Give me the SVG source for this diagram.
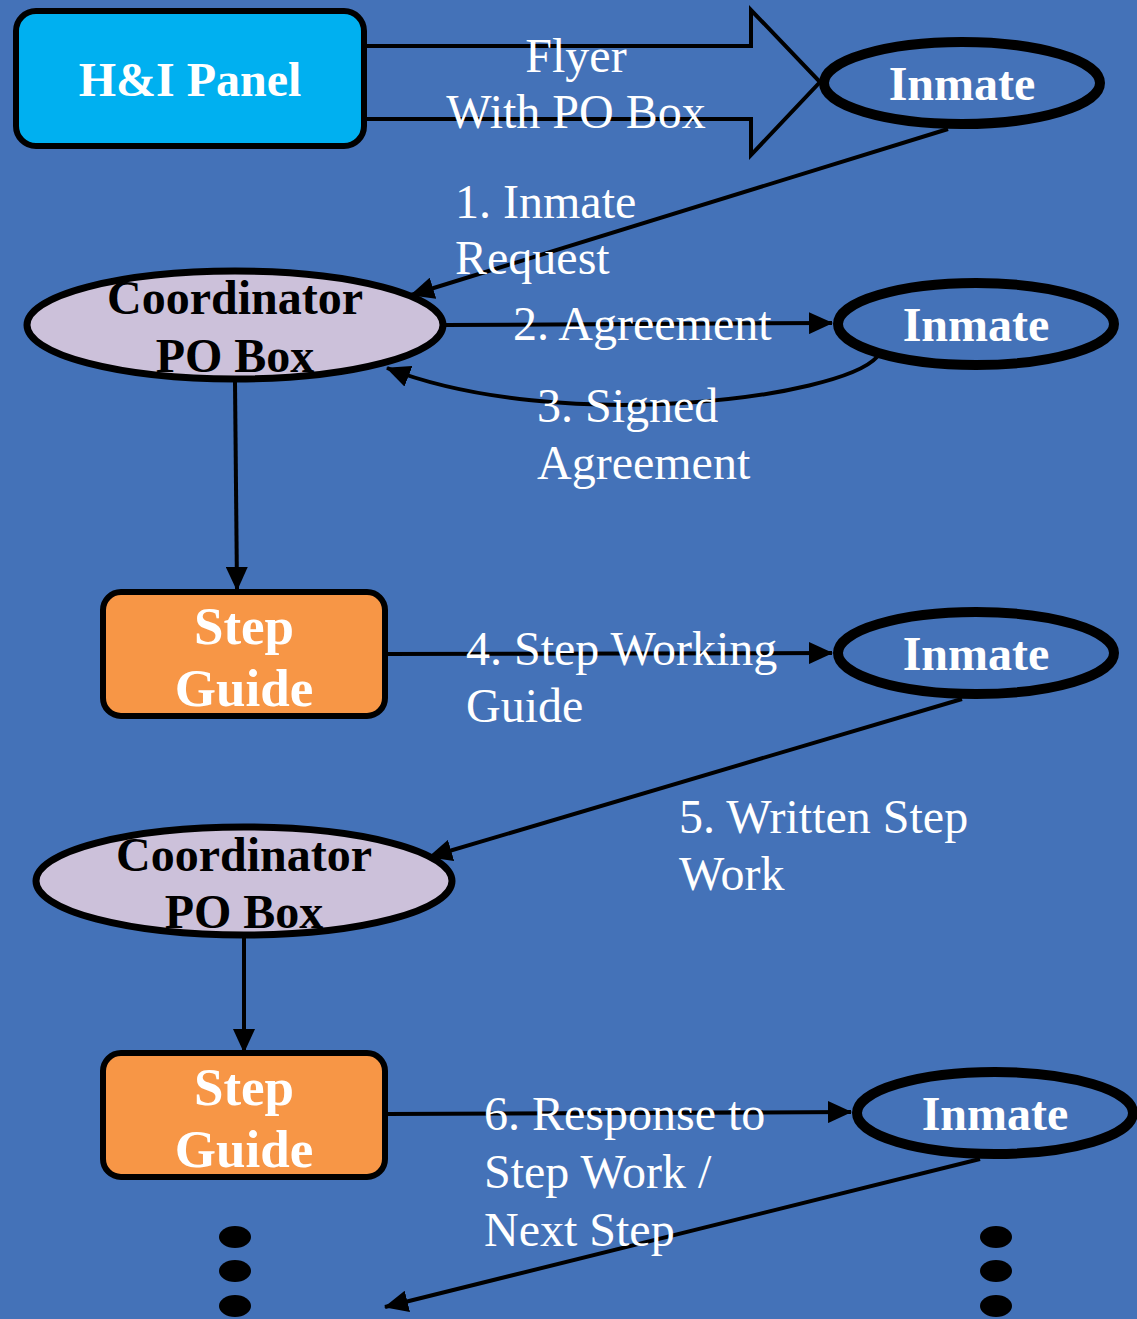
<svg xmlns="http://www.w3.org/2000/svg" width="1137" height="1319" viewBox="0 0 1137 1319">
<style>
text{font-family:"Liberation Serif","Times New Roman",serif;font-size:48px}
.b{font-weight:bold;text-anchor:middle}
.sg{font-size:53px}
.w{fill:#fff}
.k{fill:#000}
.inm{fill:none;stroke:#000;stroke-width:10}
.coord{fill:#CCC1DA;stroke:#000;stroke-width:7}
.box{stroke:#000;stroke-width:6}
.c{fill:none;stroke:#000;stroke-width:4}
</style>
<defs>
<marker id="ah" markerUnits="userSpaceOnUse" markerWidth="24" markerHeight="22" refX="23" refY="11" orient="auto">
<path d="M0,0 L24,11 L0,22 z" fill="#000"/>
</marker>
</defs>
<rect width="1137" height="1319" fill="#4472B8"/>
<g id="connectors">
<path d="M364,46 H751 V10 L820,82 L751,155 V119 H364" fill="none" stroke="#000" stroke-width="4"/>
<line class="c" x1="948" y1="129" x2="411" y2="295" marker-end="url(#ah)"/>
<line class="c" x1="446" y1="325" x2="832" y2="323" marker-end="url(#ah)"/>
<path class="c" d="M877,357 C840,398 560,435 387,368" marker-end="url(#ah)"/>
<line class="c" x1="235" y1="382" x2="237" y2="590" marker-end="url(#ah)"/>
<line class="c" x1="387" y1="654" x2="832" y2="653" marker-end="url(#ah)"/>
<line class="c" x1="962" y1="699" x2="429" y2="857" marker-end="url(#ah)"/>
<line class="c" x1="244" y1="937" x2="244" y2="1052" marker-end="url(#ah)"/>
<line class="c" x1="387" y1="1114" x2="851" y2="1112" marker-end="url(#ah)"/>
<line class="c" x1="980" y1="1159" x2="385" y2="1307" marker-end="url(#ah)"/>
</g>
<g id="labels">
<text class="w" x="576" y="72" text-anchor="middle">Flyer</text>
<text class="w" x="576" y="128" text-anchor="middle">With PO Box</text>
<text class="w" x="455" y="218">1. Inmate</text>
<text class="w" x="455" y="274">Request</text>
<text class="w" x="513" y="340">2. Agreement</text>
<text class="w" x="537" y="422">3. Signed</text>
<text class="w" x="537" y="479">Agreement</text>
<text class="w" x="466" y="665">4. Step Working</text>
<text class="w" x="466" y="722">Guide</text>
<text class="w" x="679" y="833">5. Written Step</text>
<text class="w" x="679" y="890">Work</text>
<text class="w" x="484" y="1130">6. Response to</text>
<text class="w" x="484" y="1188">Step Work /</text>
<text class="w" x="484" y="1246">Next Step</text>
</g>
<g id="hi-panel">
<rect class="box" x="16" y="11" width="348" height="135" rx="20" fill="#00B0F0"/>
<text class="b w" x="190" y="96">H&amp;I Panel</text>
</g>
<g id="inmate1">
<ellipse class="inm" cx="962" cy="83" rx="138" ry="41"/>
<text class="b w" x="962" y="100">Inmate</text>
</g>
<g id="coordinator1">
<ellipse class="coord" cx="235" cy="325" rx="208" ry="54"/>
<text class="b k" x="235" y="314">Coordinator</text>
<text class="b k" x="235" y="372">PO Box</text>
</g>
<g id="inmate2">
<ellipse class="inm" cx="976" cy="324" rx="138" ry="41"/>
<text class="b w" x="976" y="341">Inmate</text>
</g>
<g id="step-guide1">
<rect class="box" x="103" y="592" width="282" height="124" rx="18" fill="#F79646"/>
<text class="b w sg" x="244" y="644">Step</text>
<text class="b w sg" x="244" y="706">Guide</text>
</g>
<g id="inmate3">
<ellipse class="inm" cx="976" cy="653" rx="138" ry="41"/>
<text class="b w" x="976" y="670">Inmate</text>
</g>
<g id="coordinator2">
<ellipse class="coord" cx="244" cy="881" rx="208" ry="54"/>
<text class="b k" x="244" y="871">Coordinator</text>
<text class="b k" x="244" y="928">PO Box</text>
</g>
<g id="step-guide2">
<rect class="box" x="103" y="1053" width="282" height="124" rx="18" fill="#F79646"/>
<text class="b w sg" x="244" y="1105">Step</text>
<text class="b w sg" x="244" y="1167">Guide</text>
</g>
<g id="inmate4">
<ellipse class="inm" cx="995" cy="1113" rx="138" ry="41"/>
<text class="b w" x="995" y="1130">Inmate</text>
</g>
<g id="dots-left">
<ellipse cx="235" cy="1237" rx="16" ry="11"/>
<ellipse cx="235" cy="1271" rx="16" ry="11"/>
<ellipse cx="235" cy="1306" rx="16" ry="11"/>
</g>
<g id="dots-right">
<ellipse cx="996" cy="1237" rx="16" ry="11"/>
<ellipse cx="996" cy="1271" rx="16" ry="11"/>
<ellipse cx="996" cy="1306" rx="16" ry="11"/>
</g>
</svg>
